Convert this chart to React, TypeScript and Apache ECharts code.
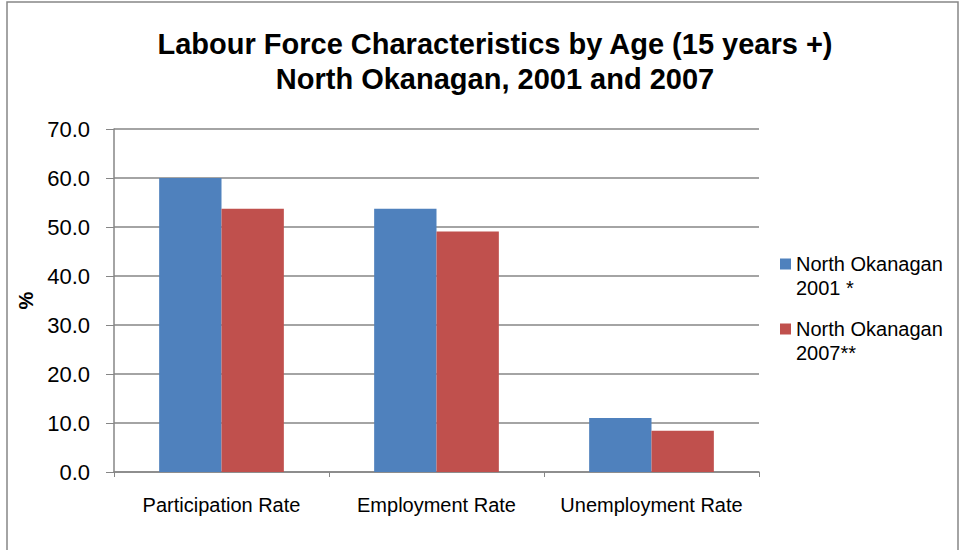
import React, { useEffect, useRef } from "react";
import * as echarts from "echarts";

const categories = ["Participation Rate", "Employment Rate", "Unemployment Rate"];
const seriesNames = ["North Okanagan 2001 *", "North Okanagan 2007**"];
const values2001 = [60.0, 53.7, 11.0];
const values2007 = [53.7, 49.1, 8.4];
const titleLines = ["Labour Force Characteristics by Age (15 years +)", "North Okanagan, 2001 and 2007"];
const yTicks = { min: 0, max: 70, interval: 10 };

const FONT = "'Liberation Sans', Arial, Helvetica, sans-serif";
const GRAY = "#868686";

export default function App() {
  const ref = useRef<HTMLDivElement>(null);
  useEffect(() => {
    if (!ref.current) return;
    const chart = echarts.init(ref.current, null, { renderer: "svg" });
    const legendLabels: Record<string, string> = {
      [seriesNames[0]]: "\nNorth Okanagan\n2001 *",
      [seriesNames[1]]: "\nNorth Okanagan\n2007**",
    };
    chart.setOption({
      animation: false,
      backgroundColor: "#ffffff",
      title: {
        text: titleLines.join("\n"),
        left: 490,
        textAlign: "center",
        top: 21,
        textStyle: {
          fontFamily: FONT,
          fontSize: 29,
          fontWeight: "bold",
          color: "#000",
          lineHeight: 35,
        },
      },
      legend: {
        orient: "vertical",
        left: 775,
        top: 223,
        itemWidth: 11,
        itemHeight: 11,
        itemGap: -7,
        icon: "rect",
        formatter: (name: string) => legendLabels[name] ?? name,
        textStyle: { fontFamily: FONT, fontSize: 20, color: "#000", lineHeight: 24 },
        data: seriesNames,
      },
      grid: { left: 114, right: 203, top: 129, bottom: 78, containLabel: false },
      xAxis: {
        type: "category",
        data: categories,
        axisLine: { lineStyle: { color: GRAY, width: 1.5 } },
        axisTick: { show: true, length: 5, lineStyle: { color: GRAY } },
        axisLabel: { interval: 0, fontFamily: FONT, fontSize: 20, color: "#000", margin: 23 },
      },
      yAxis: {
        type: "value",
        min: yTicks.min,
        max: yTicks.max,
        interval: yTicks.interval,
        name: "%",
        nameLocation: "middle",
        nameGap: 78,
        nameRotate: 90,
        nameTextStyle: { fontFamily: FONT, fontSize: 20, fontWeight: "bold", color: "#000" },
        axisLine: { show: true, lineStyle: { color: GRAY, width: 1.5 } },
        axisTick: { show: true, length: 8, lineStyle: { color: GRAY } },
        axisLabel: {
          fontFamily: FONT,
          fontSize: 22,
          color: "#000",
          margin: 24,
          formatter: (v: number) => v.toFixed(1),
        },
        splitLine: { show: true, lineStyle: { color: GRAY, width: 1.5 } },
      },
      series: [
        {
          name: seriesNames[0],
          type: "bar",
          data: values2001,
          barGap: "0%",
          barCategoryGap: "42%",
          itemStyle: { color: "#4F81BD" },
        },
        {
          name: seriesNames[1],
          type: "bar",
          data: values2007,
          barGap: "0%",
          barCategoryGap: "42%",
          itemStyle: { color: "#C0504D" },
        },
      ],
      graphic: [
        {
          type: "polyline",
          silent: true,
          shape: { points: [[7, 560], [7, 2], [958, 2], [958, 560]] },
          style: { stroke: GRAY, lineWidth: 1.5, fill: "none" },
        },
      ],
    });
    return () => chart.dispose();
  }, []);
  return (
    <div
      ref={ref}
      style={{ position: "fixed", left: 0, top: 0, width: 962, height: 550, background: "#fff" }}
    />
  );
}
